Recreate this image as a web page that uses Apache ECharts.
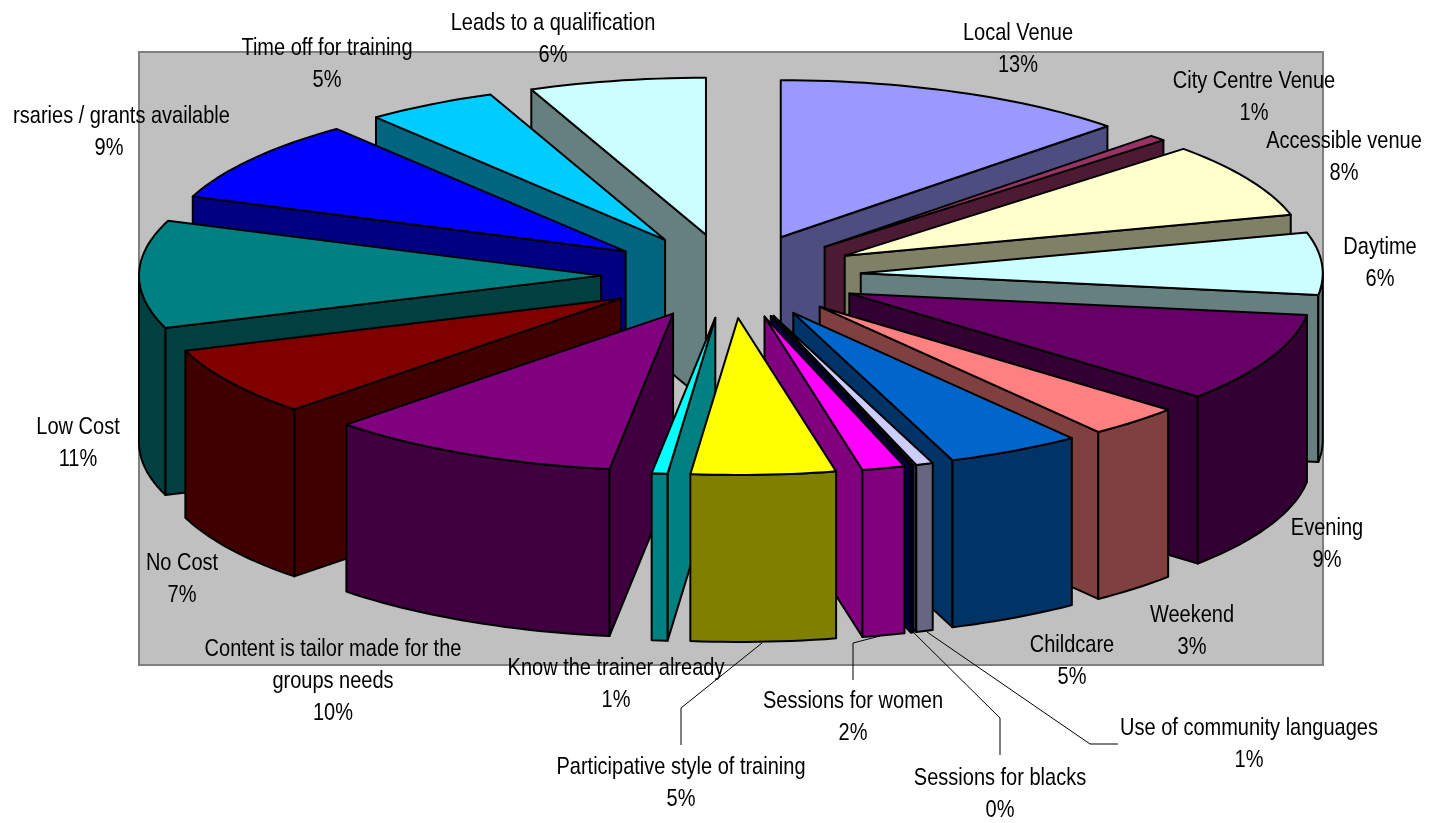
<!DOCTYPE html>
<html><head><meta charset="utf-8">
<style>html,body{margin:0;padding:0;background:#fff}#c{width:1430px;height:823px}</style>
<script src="https://cdn.jsdelivr.net/npm/echarts@6/dist/echarts.min.js"></script>
</head><body><div id="c"></div>
<script>
// ---- data, clockwise from 12 o'clock ----
const categories = ['Local Venue','City Centre Venue','Accessible venue','Daytime','Evening','Weekend','Childcare',
  'Use of community languages','Sessions for blacks','Sessions for women','Participative style of training',
  'Know the trainer already','Content is tailor made for the groups needs','No Cost','Low Cost',
  'Bursaries / grants available','Time off for training','Leads to a qualification'];
const values = [12.5,0.6,7.7,6.4,9.2,3.3,4.7,0.6,0.1,1.5,5.05,0.55,10.3,7.1,11.08,8.56,4.59,6.17];
const colors = ['#9999FF','#993366','#FFFFCC','#CCFFFF','#660066','#FF8080','#0066CC','#CCCCFF','#000080',
  '#FF00FF','#FFFF00','#00FFFF','#800080','#800000','#008080','#0000FF','#00CCFF','#CCFFFF'];

// ---- label layout (separate from data): text lines with [centerX, centerY] of first line, line step ----
const labelLayout = [
  [['Local Venue'],1018,33],[['City Centre Venue'],1254,81],[['Accessible venue'],1344,141],[['Daytime'],1380,247],
  [['Evening'],1327,528],[['Weekend'],1192,615],[['Childcare'],1072,645],[['Use of community languages'],1249,728],
  [['Sessions for blacks'],1000,778],[['Sessions for women'],853,701],[['Participative style of training'],681,767],
  [['Know the trainer already'],616,668],[['Content is tailor made for the','groups needs'],333,649],[['No Cost'],182,563],
  [['Low Cost'],78,427],[['rsaries / grants available'],121.5,116,109],[['Time off for training'],327,48],[['Leads to a qualification'],553,23]
];
const leaderLayout = [
  [[762,643],[681,708],[681,745]],
  [[880,636],[853,643],[853,680]],
  [[910,629],[1000,718],[1000,755]],
  [[927,632],[1090,744],[1118,744]]
];
const pie = {cx:731, cy:276, rx:462, ry:157, ex:130, ey:42, depth:167};

function half(hex){
  const n=parseInt(hex.slice(1),16);
  const f=s=>Math.round(((n>>s)&255)/2);
  return 'rgb('+f(16)+','+f(8)+','+f(0)+')';
}
const total = values.reduce((a,b)=>a+b,0);
let acc=0;
const rows = values.map((v,i)=>{const row=[acc,v,i];acc+=v;return row;});
// back-to-front painting order
rows.sort((a,b)=>{
  const m=r=>(r[0]+r[1]/2)/total*2*Math.PI;
  return -Math.cos(m(a))+Math.cos(m(b));
});

function renderSlice(params, api){
  const a0=api.value(0)/total*360, a1=(api.value(0)+api.value(1))/total*360, idx=api.value(2);
  const rad=d=>d*Math.PI/180;
  const mid=rad((a0+a1)/2);
  const ox=pie.cx+pie.ex*Math.sin(mid), oy=pie.cy-pie.ey*Math.cos(mid);
  const rim=d=>[ox+pie.rx*Math.sin(rad(d)), oy-pie.ry*Math.cos(rad(d))];
  const low=p=>[p[0],p[1]+pie.depth];
  const arc=(s,e)=>{const pts=[];const n=Math.max(2,Math.ceil((e-s)/1.5));for(let k=0;k<=n;k++)pts.push(rim(s+(e-s)*k/n));return pts;};
  const top=colors[idx], side=half(top);
  const style={fill:side,stroke:'#000',lineWidth:2,lineJoin:'round'};
  const tip=[ox,oy], children=[];
  const wall=pt=>children.push({type:'polygon',shape:{points:[tip,pt,low(pt),low(tip)]},style});
  const as=a=>Math.sin(rad(a));
  if(as(a1)>0.0001) wall(rim(a1));
  if(as(a0)<-0.0001) wall(rim(a0));
  const s=Math.max(a0,90), e=Math.min(a1,270);
  if(e>s){
    const upper=arc(s,e), lower=upper.map(low).reverse();
    children.push({type:'polygon',shape:{points:upper.concat(lower)},style});
  }
  children.push({type:'polygon',shape:{points:[tip].concat(arc(a0,a1))},style:{fill:top,stroke:'#000',lineWidth:2,lineJoin:'round'}});
  return {type:'group',children};
}

const graphic=[];
function addText(t,x,y){
  graphic.push({type:'text',z:100,x:x,y:y,scaleY:1.22,silent:true,
    style:{text:t,x:0,y:0,align:'center',verticalAlign:'middle',fill:'#000',font:'20px "Liberation Sans", Arial, sans-serif'}});
}
labelLayout.forEach((l,i)=>{
  const step=32;
  l[0].forEach((t,k)=>addText(t,l[1],l[2]+k*step));
  addText(Math.round(values[i])+'%', l[3]!==undefined?l[3]:l[1], l[2]+l[0].length*step);
});
leaderLayout.forEach(p=>graphic.push({type:'polyline',z:99,silent:true,shape:{points:p},style:{fill:null,stroke:'#000',lineWidth:1}}));

const chart=echarts.init(document.getElementById('c'),null,{renderer:'canvas'});
chart.setOption({
  animation:false,
  backgroundColor:'#fff',
  grid:{show:true,left:139,top:52,width:1184,height:613,backgroundColor:'#C0C0C0',borderColor:'#808080',borderWidth:2},
  xAxis:{type:'value',show:false},
  yAxis:{type:'value',show:false},
  graphic:graphic,
  series:[{type:'custom',coordinateSystem:'none',silent:true,renderItem:renderSlice,data:rows,clip:false}]
});
</script></body></html>
